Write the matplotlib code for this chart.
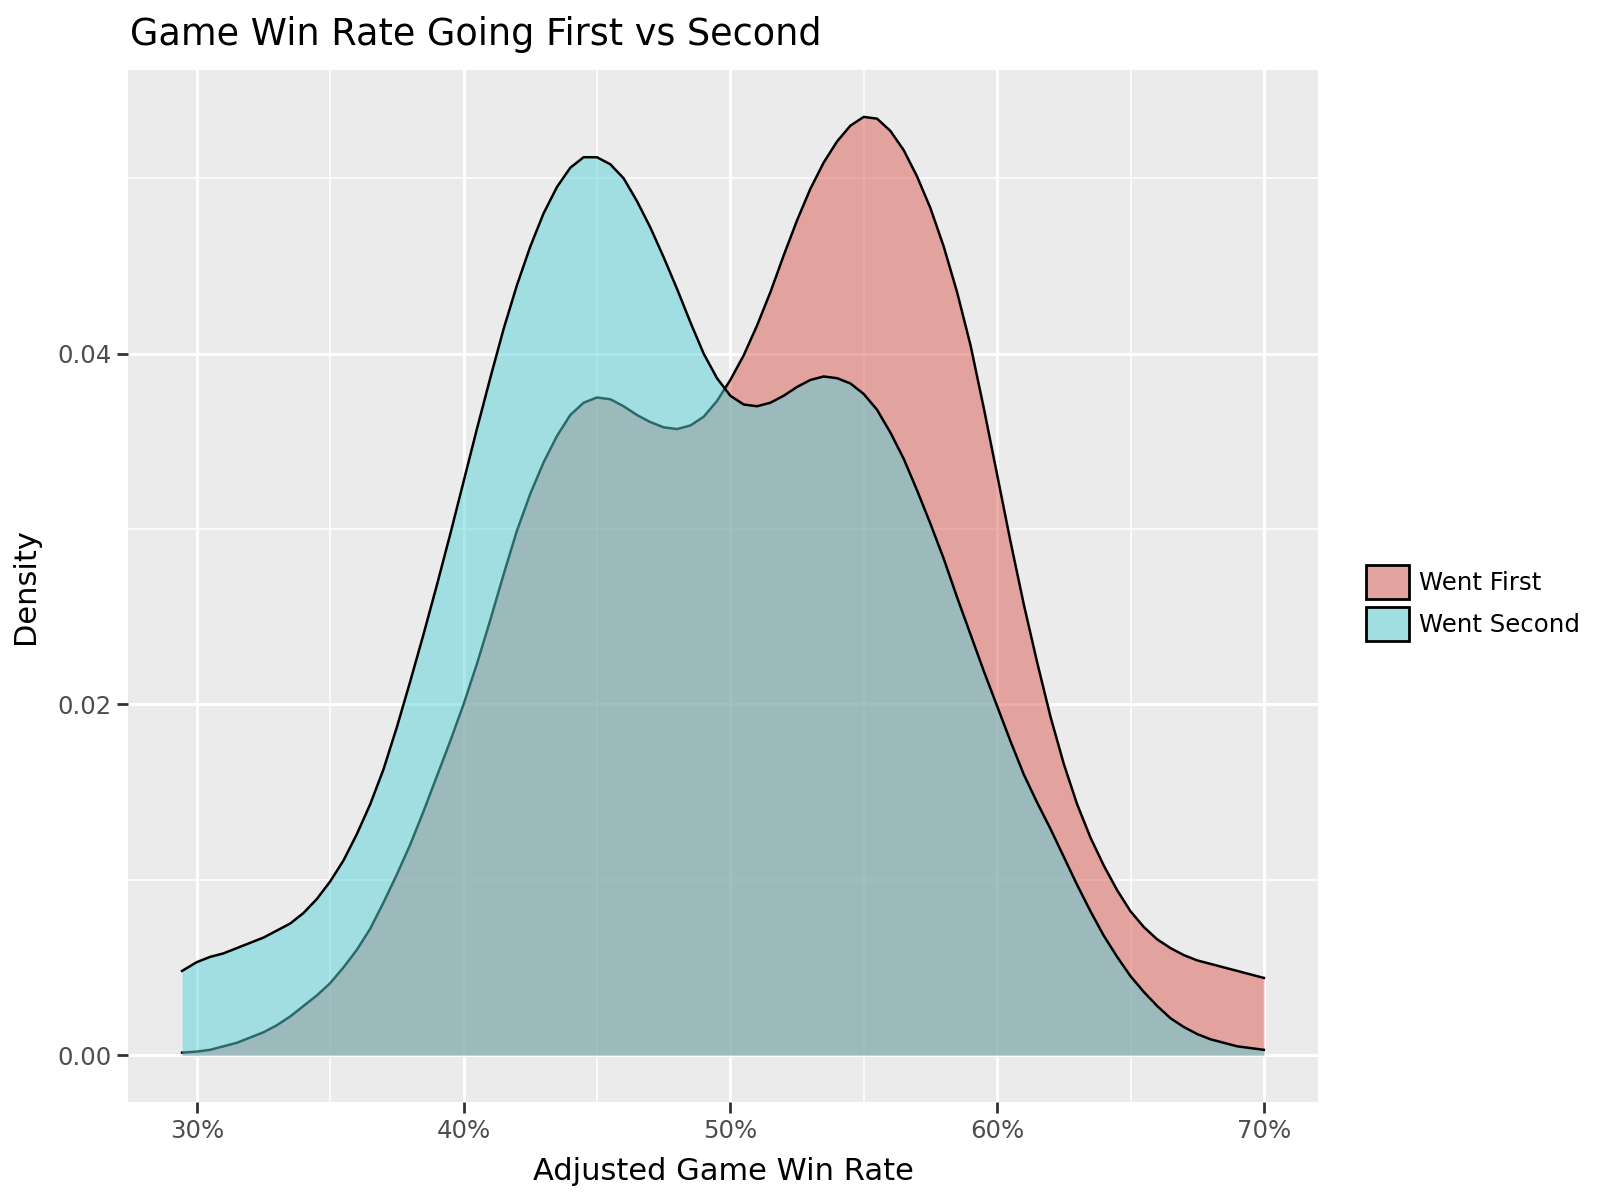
import numpy as np
import matplotlib
matplotlib.use("Agg")
import matplotlib.pyplot as plt
from matplotlib.patches import Patch
from matplotlib.ticker import FuncFormatter, MultipleLocator

plt.rcParams['font.family'] = ['DejaVu Sans']

# ---- data ----
win_rate = [29.45, 30, 30.5, 31, 31.5, 32, 32.5, 33, 33.5, 34, 34.5, 35, 35.5,
            36, 36.5, 37, 37.5, 38, 38.5, 39, 39.5, 40, 40.5, 41, 41.5, 42, 42.5,
            43, 43.5, 44, 44.5, 45, 45.5, 46, 46.5, 47, 47.5, 48, 48.5, 49, 49.5,
            50, 50.5, 51, 51.5, 52, 52.5, 53, 53.5, 54, 54.5, 55, 55.5, 56, 56.5,
            57, 57.5, 58, 58.5, 59, 59.5, 60, 60.5, 61, 61.5, 62, 62.5, 63, 63.5,
            64, 64.5, 65, 65.5, 66, 66.5, 67, 67.5, 68, 68.5, 69, 69.5, 70]
went_first = [0.00014, 0.0002, 0.0003, 0.0005, 0.0007, 0.0010, 0.0013, 0.0017, 0.0022,
              0.0028, 0.0034, 0.0041, 0.0050, 0.0060, 0.0072, 0.0087, 0.0103, 0.0120,
              0.0139, 0.0159, 0.0179, 0.0200, 0.0223, 0.0248, 0.0274, 0.0299, 0.0320,
              0.0338, 0.0353, 0.0365, 0.0372, 0.0375, 0.0374, 0.0370, 0.0365, 0.0361,
              0.0358, 0.0357, 0.0359, 0.0364, 0.0373, 0.0385, 0.0399, 0.0416, 0.0435,
              0.0456, 0.0476, 0.0494, 0.0509, 0.0521, 0.0530, 0.0535, 0.0534, 0.0527,
              0.0516, 0.0501, 0.0483, 0.0461, 0.0435, 0.0405, 0.0369, 0.0331, 0.0293,
              0.0257, 0.0224, 0.0193, 0.0166, 0.0143, 0.0124, 0.0108, 0.0094, 0.0082,
              0.0073, 0.0066, 0.0061, 0.0057, 0.0054, 0.0052, 0.0050, 0.0048, 0.0046,
              0.0044]
went_second = [0.0048, 0.0053, 0.0056, 0.0058, 0.0061, 0.0064, 0.0067, 0.0071, 0.0075,
               0.0081, 0.0089, 0.0099, 0.0111, 0.0126, 0.0143, 0.0163, 0.0187, 0.0213,
               0.0240, 0.0268, 0.0297, 0.0327, 0.0357, 0.0386, 0.0414, 0.0439, 0.0461,
               0.0480, 0.0495, 0.0506, 0.0512, 0.0512, 0.0508, 0.0500, 0.0487, 0.0472,
               0.0455, 0.0437, 0.0418, 0.0400, 0.0386, 0.0376, 0.0371, 0.0370, 0.0372,
               0.0376, 0.0381, 0.0385, 0.0387, 0.0386, 0.0383, 0.0377, 0.0368, 0.0355,
               0.0340, 0.0322, 0.0303, 0.0283, 0.0261, 0.0240, 0.0219, 0.0199, 0.0179,
               0.0160, 0.0144, 0.0129, 0.0113, 0.0097, 0.0082, 0.0068, 0.0056, 0.0045,
               0.0036, 0.0028, 0.0021, 0.0016, 0.0012, 0.0009, 0.0007, 0.0005, 0.0004,
               0.0003]
series_names = ["Went First", "Went Second"]
x_ticks = [30, 40, 50, 60, 70]
y_ticks = [0.00, 0.02, 0.04]

red_fill = "#DB5B53"
teal_fill = "#57D3DB"

fig = plt.figure(figsize=(8, 6), dpi=200)
ax = fig.add_axes([128/1600, 1 - 1102/1200, (1318-128)/1600, (1102-70)/1200])
ax.set_facecolor("#EBEBEB")

x = np.array(win_rate)
y1 = np.array(went_first)
y2 = np.array(went_second)

ax.fill_between(x, 0, y1, color=red_fill, alpha=0.5, linewidth=0, zorder=3)
ax.plot(x, y1, color="black", linewidth=0.9, zorder=3.1, solid_joinstyle="round")
ax.fill_between(x, 0, y2, color=teal_fill, alpha=0.5, linewidth=0, zorder=3.2)
ax.plot(x, y2, color="black", linewidth=0.9, zorder=3.3, solid_joinstyle="round")

xr = x.max() - x.min()
ymax = max(y1.max(), y2.max())
ax.set_xlim(x.min() - 0.05*xr, x.max() + 0.05*xr)
ax.set_ylim(-0.05*ymax, ymax*1.05)

ax.set_xticks(x_ticks)
ax.xaxis.set_minor_locator(MultipleLocator(5))
ax.xaxis.set_major_formatter(FuncFormatter(lambda v, p: f"{v:.0f}%"))
ax.set_yticks(y_ticks)
ax.yaxis.set_minor_locator(MultipleLocator(0.01))
ax.yaxis.set_major_formatter(FuncFormatter(lambda v, p: f"{v:.2f}"))

ax.grid(which="major", color="white", linewidth=1.1, zorder=1)
ax.grid(which="minor", color="white", linewidth=0.55, zorder=1)
ax.set_axisbelow(True)
for s in ax.spines.values():
    s.set_visible(False)
ax.tick_params(which="major", length=4, width=1.0, color="#333333",
               labelsize=8.8, labelcolor="#4D4D4D", pad=2)
ax.tick_params(which="minor", length=0)

ax.set_xlabel("Adjusted Game Win Rate", fontsize=11, labelpad=5)
ax.set_ylabel("Density", fontsize=11, labelpad=6)
fig.text(130/1600, 1 - 45/1200, "Game Win Rate Going First vs Second",
         fontsize=13.2, ha="left", va="baseline")

handles = [Patch(facecolor=red_fill, alpha=0.5, edgecolor="black", linewidth=1.0),
           Patch(facecolor=teal_fill, alpha=0.5, edgecolor="black", linewidth=1.0)]
leg = fig.legend(handles, series_names, loc="center left",
                 bbox_to_anchor=(1366/1600, 1 - 603/1200), frameon=False,
                 fontsize=8.8, handlelength=1.75, handleheight=1.75,
                 labelspacing=0.33, handletextpad=0.4, borderpad=0, borderaxespad=0)
for h in leg.legend_handles:
    h.set_edgecolor("black")
    h.set_alpha(None)
leg.legend_handles[0].set_facecolor("#E3A39F")
leg.legend_handles[1].set_facecolor("#A1DFE3")

fig.savefig("out.png", dpi=200)
